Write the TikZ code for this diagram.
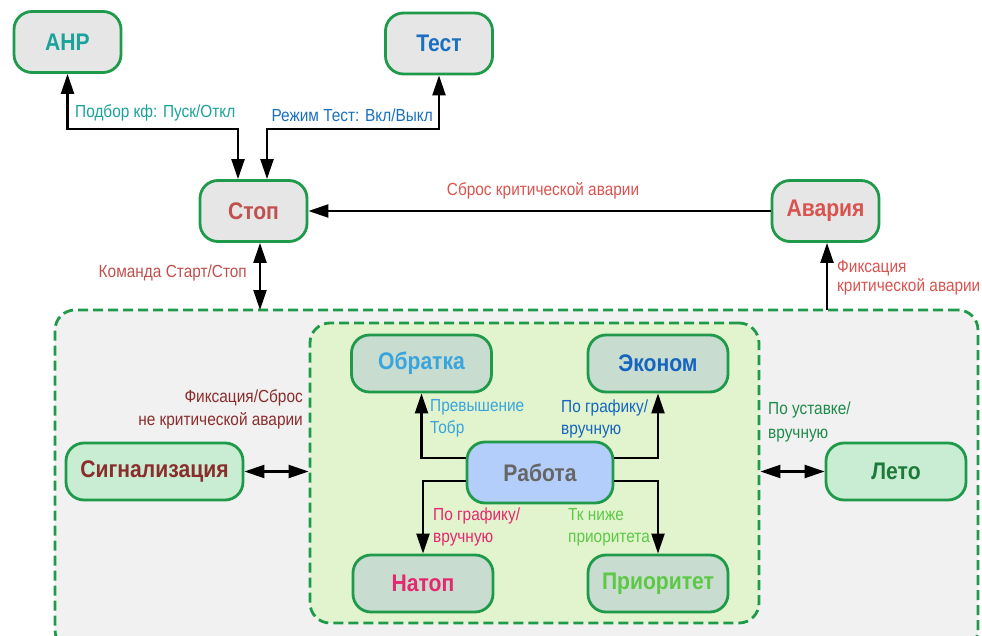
\documentclass[tikz,border=0pt]{standalone}
\usepackage{fontspec}
\setmainfont{Liberation Sans}[FakeStretch=0.88]
\usetikzlibrary{arrows.meta}
\definecolor{bgreen}{HTML}{1E9A4A}
\definecolor{topfill}{HTML}{E6E6E6}
\definecolor{innfill}{HTML}{C8DDD0}
\definecolor{rabfill}{HTML}{B3CEFA}
\definecolor{sidefill}{HTML}{C8EDD2}
\definecolor{outfill}{HTML}{F1F1F1}
\definecolor{inbfill}{HTML}{E2F4CD}
\definecolor{cAnr}{HTML}{1AA39A}
\definecolor{cTest}{HTML}{1A6FC0}
\definecolor{cStop}{HTML}{C0504D}
\definecolor{cAv}{HTML}{D9534F}
\definecolor{cObr}{HTML}{3AA4DC}
\definecolor{cEkon}{HTML}{1565C0}
\definecolor{cNat}{HTML}{E6266E}
\definecolor{cPrio}{HTML}{5CC846}
\definecolor{cRab}{HTML}{666666}
\definecolor{cSig}{HTML}{8B2D2D}
\definecolor{cLeto}{HTML}{1E7A3A}
\definecolor{cLetoL}{HTML}{1E8A4A}
\begin{document}
\begin{tikzpicture}[x=1pt,y=-1pt,
  box/.style={draw=bgreen, line width=2.8pt, rounded corners=18pt, fill=topfill,
    minimum width=107pt, minimum height=61pt, inner sep=0pt,
    font=\bfseries\fontsize{24}{28}\selectfont},
  ibox/.style={box, fill=innfill, minimum width=140pt, minimum height=57pt},
  sbox/.style={box, fill=sidefill, minimum height=57pt},
  group/.style={draw=bgreen, line width=2.8pt, dash pattern=on 10pt off 5pt, rounded corners=20pt, inner sep=0pt},
  lbl/.style={font=\fontsize{17.5}{20}\selectfont, inner sep=0pt},
  tip/.tip={Triangle[length=20pt,width=13pt]},
  arr/.style={line width=2.2pt, -tip},
  darr/.style={line width=2.2pt, tip-tip}
]
\useasboundingbox (0,0) rectangle (982,636);
\clip (0,0) rectangle (982,636);

% groups
\node[group, fill=outfill, minimum width=923pt, minimum height=340pt] (outer) at (516.5,480) {};
\node[group, fill=inbfill, minimum width=449pt, minimum height=300pt] (inner) at (534.5,473) {};
\coordinate (s1) at (260,310);
\coordinate (s2) at (827,310);

% nodes
\node[box, text=cAnr] (anr) at (67.5,42) {АНР};
\node[box, text=cTest] (test) at (439,43.5) {Тест};
\node[box, text=cStop] (stop) at (253.5,211) {Стоп};
\node[box, text=cAv] (avaria) at (825.5,211) {Авария};
\node[ibox, text=cObr] (obr) at (421.5,363.5) {Обратка};
\node[ibox, text=cEkon] (ekon) at (658,363.5) {Эконом};
\node[box, fill=rabfill, text=cRab, minimum width=146pt] (rab) at (540,472.5) {Работа};
\node[ibox, text=cNat] (natop) at (423,583.5) {Натоп};
\node[ibox, text=cPrio] (prio) at (658,583.5) {Приоритет};
\node[sbox, text=cSig, minimum width=177pt] (sig) at (154.5,471.5) {Сигнализация};
\node[sbox, text=cLeto, minimum width=140pt] (leto) at (896,471.5) {Лето};

% connectors
\draw[darr] ([xshift=-15.5pt]stop.north) -- ++(0,-50) -| (anr.south);
\draw[darr] ([xshift=13.5pt]stop.north) -- ++(0,-50) -| (test.south);
\draw[arr] (avaria.west) -- (stop.east);
\draw[darr] (stop.south -| s1) -- (s1);
\draw[arr] (s2) -- (avaria.south -| s2);
\draw[arr] ([yshift=14.5pt]rab.west) -| (obr.south);
\draw[arr] ([yshift=14.5pt]rab.east) -| (ekon.south);
\draw[arr] ([yshift=-8.5pt]rab.west) -| (natop.north);
\draw[arr] ([yshift=-8.5pt]rab.east) -| (prio.north);
\draw[darr] (sig.east) -- (sig.east -| inner.west);
\draw[darr] (inner.east |- leto.west) -- (leto.west);

% labels
\node[lbl, anchor=west, text=cAnr] (l1) at (75,113) {Подбор кф: Пуск/Откл};
\node[lbl, anchor=east, text=cTest] (l2) at (433,115) {Режим Тест: Вкл/Выкл};
\node[lbl, anchor=east, text=cStop] (l3) at (247,273) {Команда Старт/Стоп};
\node[lbl, text=cAv] (l4) at (543,191) {Сброс критической аварии};
\node[lbl, anchor=west, align=left, text=cAv, font=\fontsize{17.5}{19}\selectfont] (l5) at (837,277.5) {Фиксация\\критической аварии};
\node[lbl, anchor=east, align=right, text=cSig, font=\fontsize{17.5}{23}\selectfont] (l6) at (303,409.5) {Фиксация/Сброс\\не критической аварии};
\node[lbl, anchor=west, align=left, text=cObr, font=\fontsize{17.5}{22}\selectfont] (l7) at (430,418) {Превышение\\Тобр};
\node[lbl, anchor=west, align=left, text=cEkon, font=\fontsize{17.5}{22}\selectfont] (l8) at (561,418.5) {По графику/\\вручную};
\node[lbl, anchor=west, align=left, text=cNat, font=\fontsize{17.5}{22}\selectfont] (l9) at (433,526.5) {По графику/\\вручную};
\node[lbl, anchor=west, align=left, text=cPrio, font=\fontsize{17.5}{22}\selectfont] (l10) at (568,527.5) {Тк ниже\\приоритета};
\node[lbl, anchor=west, align=left, text=cLetoL, font=\fontsize{17.5}{24}\selectfont] (l11) at (768,422) {По уставке/\\вручную};
\end{tikzpicture}
\end{document}
